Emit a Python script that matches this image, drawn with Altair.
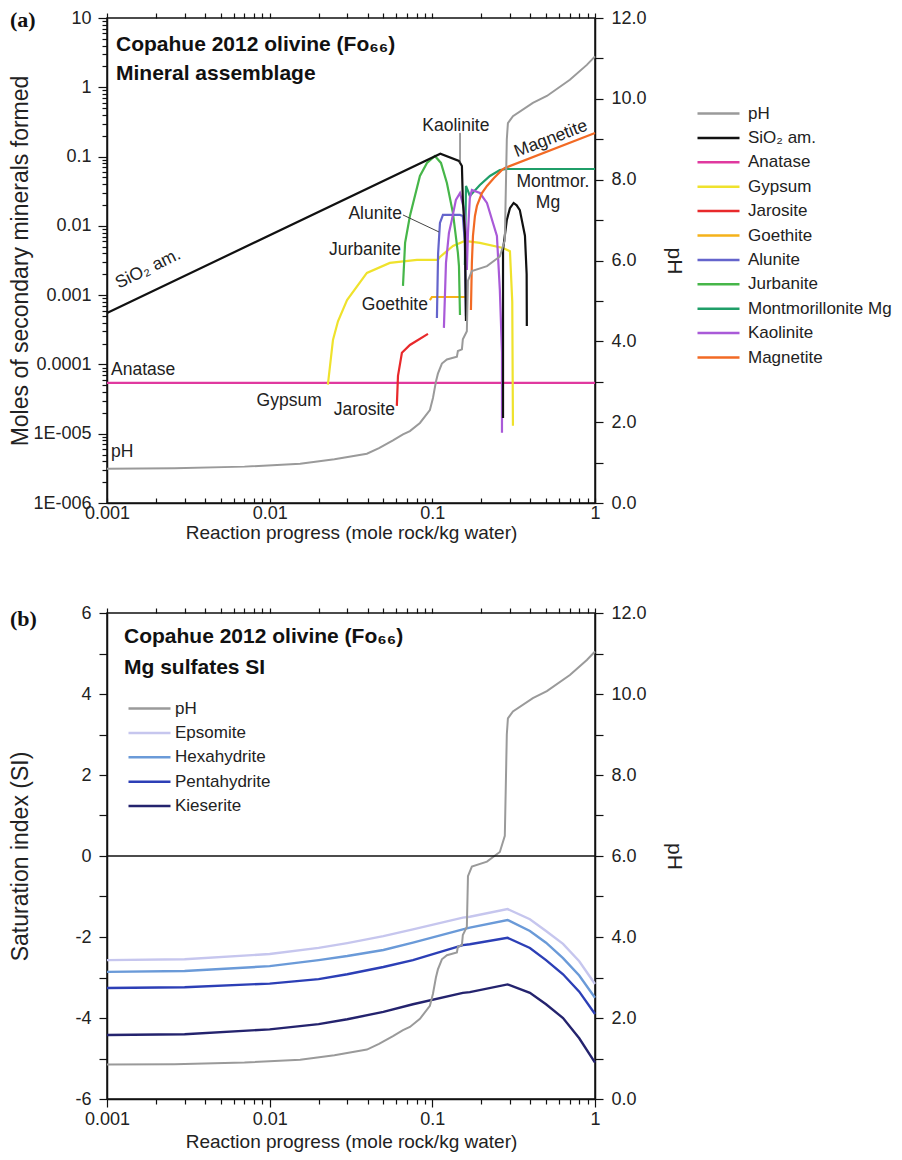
import altair as alt
import pandas as pd

FONT = "Liberation Sans"

# ---------------- shared ticks ----------------
X_TICKS = [round(k * 10.0 ** e, 12) for e in (-3, -2, -1) for k in range(1, 10)] + [1.0]
Y_TICKS_A = [round(k * 10.0 ** e, 14) for e in (-6, -5, -4, -3, -2, -1, 0) for k in range(1, 10)] + [10.0]
PH_TICKS = list(range(0, 13))
SI_TICKS = list(range(-6, 7))

# ---------------- pH curve (both panels) ----------------
PH_X = [0.001, 0.0026, 0.007, 0.0154, 0.025, 0.0396, 0.047, 0.0573, 0.066, 0.0728, 0.0839, 0.0966, 0.1009,
        0.1052, 0.1082, 0.1145, 0.1229, 0.1416, 0.1436, 0.152, 0.154, 0.163, 0.1656,
        0.175, 0.2167, 0.26, 0.279, 0.287, 0.2915, 0.313, 0.415, 0.506, 0.701, 0.891, 1.0]
PH_VALUES = [0.85, 0.86, 0.9, 0.97, 1.08, 1.22, 1.36, 1.55, 1.7, 1.78, 1.98, 2.3, 2.6,
             3.0, 3.2, 3.45, 3.55, 3.62, 3.76, 3.8, 4.05, 4.25, 5.5,
             5.74, 5.86, 6.1, 6.5, 9.0, 9.4, 9.57, 9.9, 10.07, 10.47, 10.84, 11.05]

# ---------------- panel (a): minerals ----------------
LEGEND_A = ["pH", "SiO₂ am.", "Anatase", "Gypsum", "Jarosite", "Goethite", "Alunite",
            "Jurbanite", "Montmorillonite Mg", "Kaolinite", "Magnetite"]
COLORS_A = ["#9a9a9a", "#111111", "#e0399f", "#efe22c", "#e8292b", "#f5b21a", "#6464cc",
            "#46b649", "#1f9e68", "#a95ad8", "#f26a24"]

SIO2_X1 = [0.001, 0.112, 0.1458, 0.152, 0.154, 0.1585, 0.161]
SIO2_Y1 = [0.000553, 0.11, 0.0864, 0.073, 0.0237, 0.0079, 0.000424]
SIO2_X2 = [0.272, 0.272, 0.287, 0.30, 0.316, 0.33, 0.345, 0.371, 0.38, 0.381]
SIO2_Y2 = [1.69e-5, 0.0045, 0.0122, 0.018, 0.0214, 0.0198, 0.0169, 0.0072, 0.002, 0.00036]
ANATASE_X = [0.001, 1.0]
ANATASE_Y = [5.4e-5, 5.4e-5]
GYPSUM_X = [0.0228, 0.0245, 0.0263, 0.0299, 0.0396, 0.0548, 0.0804, 0.108, 0.1114, 0.1339,
            0.1585, 0.196, 0.272, 0.30, 0.31, 0.313]
GYPSUM_Y = [5.1e-5, 2.26e-4, 4.2e-4, 8.5e-4, 0.00209, 0.00292, 0.00322, 0.00322, 0.00356, 0.00513,
            0.00606, 0.00567, 0.0048, 0.0043, 0.0008, 1.3e-5]
JAROSITE_X = [0.0605, 0.0615, 0.065, 0.0728, 0.094]
JAROSITE_Y = [2.52e-5, 6.83e-5, 1.47e-4, 1.91e-4, 2.76e-4]
GOETHITE_X = [0.0966, 0.0994, 0.163]
GOETHITE_Y = [8.5e-4, 9.4e-4, 9.4e-4]
ALUNITE_X = [0.1067, 0.1085, 0.1114, 0.1162, 0.1479, 0.154, 0.1585, 0.161]
ALUNITE_Y = [4.69e-4, 0.004, 0.011, 0.01436, 0.01436, 0.0139, 0.0057, 0.0005]
JURBANITE_X = [0.066, 0.068, 0.0728, 0.0839, 0.0927, 0.1037, 0.113, 0.1229, 0.1339, 0.1436, 0.1458, 0.1479]
JURBANITE_Y = [0.00136, 0.00567, 0.0139, 0.0525, 0.081, 0.102, 0.081, 0.0416, 0.0153, 0.00406, 0.00264, 0.000518]
MONTMOR_X = [0.1585, 0.161, 0.1656, 0.170, 0.196, 0.226, 0.260, 0.287, 1.0]
MONTMOR_Y = [0.00273, 0.0377, 0.0319, 0.027, 0.0389, 0.0525, 0.0641, 0.0662, 0.0662]
KAOLINITE_X = [0.1178, 0.1213, 0.1265, 0.1318, 0.1396, 0.1479, 0.156, 0.161, 0.163, 0.1656,
               0.170, 0.175, 0.196, 0.2167, 0.236, 0.2495, 0.26, 0.268, 0.268]
KAOLINITE_Y = [3.37e-4, 0.00292, 0.0079, 0.0122, 0.0237, 0.0298, 0.0181, 0.0079, 0.00231, 0.0079,
               0.025, 0.033, 0.0298, 0.0214, 0.011, 0.00715, 0.00119, 1.47e-4, 1.03e-5]
MAGNETITE_X = [0.1727, 0.175, 0.1777, 0.1828, 0.188, 0.2018, 0.2167, 0.2393, 0.268, 0.279, 1.0]
MAGNETITE_Y = [6.11e-4, 0.00292, 0.00715, 0.0139, 0.0194, 0.0298, 0.0377, 0.049, 0.0641, 0.0685, 0.219]

# annotations (a)
ANN_RIGHT_LABELS = ["Alunite", "Jurbanite", "Goethite", "Gypsum", "Jarosite"]
ANN_RIGHT_X = [0.065, 0.0641, 0.094, 0.0209, 0.0589]
ANN_RIGHT_Y = [0.0149, 0.00449, 0.00072, 2.97e-5, 2.2e-5]
ANN_CENTER_LABELS = ["Kaolinite", "Montmor.", "Mg"]
ANN_CENTER_X = [0.1396, 0.551, 0.514]
ANN_CENTER_Y = [0.277, 0.043, 0.0214]
ANN_LEFT_LABELS = ["Anatase", "pH"]
ANN_LEFT_X = [0.00106, 0.00106]
ANN_LEFT_Y = [8.3e-5, 5.5e-6]
LEADER_X = [0.148, 0.066]
LEADER_Y = [0.219, 0.01436]
LEADER_X2 = [0.148, 0.1098]
LEADER_Y2 = [0.081, 0.00817]
SIO2_LABEL = ["SiO₂ am."]
SIO2_LABEL_X = [0.00179]
SIO2_LABEL_Y = [0.00239]
MAGNETITE_LABEL = ["Magnetite"]
MAGNETITE_LABEL_X = [0.536]
MAGNETITE_LABEL_Y = [0.18]
TITLE_A = ["Copahue 2012 olivine (Fo₆₆)", "Mineral assemblage"]

# ---------------- panel (b): Mg sulfates SI ----------------
LEGEND_B = ["pH", "Epsomite", "Hexahydrite", "Pentahydrite", "Kieserite"]
COLORS_B = ["#9a9a9a", "#c6c6ee", "#6a9ad8", "#2c3fb6", "#24236e"]
SI_X = [0.001, 0.003, 0.01, 0.02, 0.03, 0.05, 0.076, 0.154, 0.17, 0.29, 0.398, 0.5, 0.636, 0.8, 1.0]
EPSOMITE = [-2.57, -2.55, -2.42, -2.27, -2.15, -1.98, -1.81, -1.52, -1.50, -1.31, -1.56, -1.85, -2.17, -2.6, -3.16]
HEXAHYDRITE = [-2.86, -2.84, -2.72, -2.57, -2.47, -2.32, -2.14, -1.81, -1.77, -1.58, -1.85, -2.14, -2.52, -2.95, -3.5]
PENTAHYDRITE = [-3.26, -3.24, -3.15, -3.04, -2.92, -2.74, -2.57, -2.2, -2.18, -2.02, -2.27, -2.57, -2.92, -3.35, -3.9]
KIESERITE = [-4.42, -4.40, -4.28, -4.15, -4.03, -3.85, -3.66, -3.38, -3.36, -3.17, -3.38, -3.66, -4.0, -4.5, -5.1]
TITLE_B = ["Copahue 2012 olivine (Fo₆₆)", "Mg sulfates SI"]


def long_table(series):
    rows = []
    for name, seg, xs, ys in series:
        for i, (xv, yv) in enumerate(zip(xs, ys)):
            rows.append({"series": name, "seg": f"{name}-{seg}", "x": xv, "y": yv, "i": i})
    return pd.DataFrame(rows)


df_a = long_table([
    ("Anatase", 1, ANATASE_X, ANATASE_Y),
    ("Gypsum", 1, GYPSUM_X, GYPSUM_Y),
    ("Jarosite", 1, JAROSITE_X, JAROSITE_Y),
    ("Goethite", 1, GOETHITE_X, GOETHITE_Y),
    ("Jurbanite", 1, JURBANITE_X, JURBANITE_Y),
    ("Alunite", 1, ALUNITE_X, ALUNITE_Y),
    ("Montmorillonite Mg", 1, MONTMOR_X, MONTMOR_Y),
    ("Kaolinite", 1, KAOLINITE_X, KAOLINITE_Y),
    ("Magnetite", 1, MAGNETITE_X, MAGNETITE_Y),
    ("SiO₂ am.", 1, SIO2_X1, SIO2_Y1),
    ("SiO₂ am.", 2, SIO2_X2, SIO2_Y2),
])
df_ph = long_table([("pH", 1, PH_X, PH_VALUES)])
df_b = long_table([
    ("Epsomite", 1, SI_X, EPSOMITE),
    ("Hexahydrite", 1, SI_X, HEXAHYDRITE),
    ("Pentahydrite", 1, SI_X, PENTAHYDRITE),
    ("Kieserite", 1, SI_X, KIESERITE),
])

# ---------------- scales & axes ----------------
XSCALE = alt.Scale(type="log", domain=[0.001, 1], nice=False)
YSCALE_A = alt.Scale(type="log", domain=[1e-6, 10], nice=False)
PHSCALE = alt.Scale(domain=[0, 12], nice=False, zero=False)
SISCALE = alt.Scale(domain=[-6, 6], nice=False, zero=False)

DEC = "abs(log(datum.value)/LN10 - round(log(datum.value)/LN10)) < 0.001"
X_TITLE = "Reaction progress (mole rock/kg water)"
X_LABELS = f"{DEC} ? toString(datum.value) : ''"

# panel (a): bottom ticks point inward, labels sit close to the frame
AX_BOTTOM_A = alt.Axis(values=X_TICKS, title=X_TITLE, labelExpr=X_LABELS,
                       tickSize={"expr": "-5"}, labelOverlap=False, labelFlush=False,
                       labelPadding=6, titleY=20)
# panel (b): bottom ticks point outward
AX_BOTTOM_B = alt.Axis(values=X_TICKS, title=X_TITLE, labelExpr=X_LABELS,
                       tickSize={"condition": {"test": DEC, "value": 8}, "value": 5},
                       labelOverlap=False, labelFlush=False, labelPadding=3, titlePadding=4)
AX_TOP = alt.Axis(orient="top", values=X_TICKS, labels=False, title=None, tickSize=5, domain=False,
                  minExtent=0, maxExtent=5)
AX_LEFT_A = alt.Axis(values=Y_TICKS_A, title="Moles of secondary minerals formed",
                     labelExpr=f"{DEC} ? (datum.value >= 0.0001 ? toString(datum.value) : '1E-00' + toString(round(-log(datum.value)/LN10))) : ''",
                     tickSize={"condition": {"test": DEC, "value": 9}, "value": 5},
                     labelOverlap=False, labelFlush=False, labelPadding=7, titleX=-75,
                     titleFontSize=23)
AX_RIGHT_PH = alt.Axis(orient="right", values=PH_TICKS, title="pH", tickSize=8,
                       labelExpr="datum.value % 2 == 0 ? format(datum.value, '.1f') : ''",
                       labelOverlap=False, labelFlush=False, labelPadding=8, titleX=68,
                       titleFontSize=21)
AX_LEFT_B = alt.Axis(values=SI_TICKS, title="Saturation index (SI)", tickSize=8,
                     labelExpr="datum.value % 2 == 0 ? toString(datum.value) : ''",
                     labelOverlap=False, labelFlush=False, labelPadding=8, titleX=-75,
                     titleFontSize=23)


def legend(x, y, label_offset):
    return alt.Legend(title=None, orient="none", legendX=x, legendY=y, symbolType="M-1,0H5",
                      symbolSize=196, symbolStrokeWidth=2.5, labelOffset=label_offset,
                      labelFontSize=17, labelFont=FONT, labelColor="#222", rowPadding=6.4,
                      padding=0, labelLimit=400)


COLOR_A = alt.Color("series:N", scale=alt.Scale(domain=LEGEND_A, range=COLORS_A),
                    legend=legend(589, 87, 35))
COLOR_B = alt.Color("series:N", scale=alt.Scale(domain=LEGEND_B, range=COLORS_B),
                    legend=legend(20, 87, 31))


def text_layer(labels, xs, ys, yscale, align, angle=0):
    df = pd.DataFrame({"label": labels, "x": xs, "y": ys})
    return alt.Chart(df).mark_text(font=FONT, fontSize=17.5, align=align, baseline="middle",
                                   color="#222", angle=angle).encode(
        x=alt.X("x:Q", scale=XSCALE, axis=None),
        y=alt.Y("y:Q", scale=yscale, axis=None),
        text="label:N")


def fixed_text(txt, x, y, size, font=FONT, weight="bold"):
    return alt.Chart(pd.DataFrame({"t": [txt]})).mark_text(
        font=font, fontSize=size, fontWeight=weight, align="left", baseline="alphabetic",
        color="#111").encode(x=alt.value(x), y=alt.value(y), text="t:N")


# ---------------- panel (a) ----------------
lines_a = alt.Chart(df_a).mark_line(strokeWidth=2.2).encode(
    x=alt.X("x:Q", scale=XSCALE, axis=AX_BOTTOM_A),
    y=alt.Y("y:Q", scale=YSCALE_A, axis=AX_LEFT_A),
    color=COLOR_A, detail="seg:N", order="i:Q")

df_lead = pd.DataFrame({"x": LEADER_X, "y": LEADER_Y, "x2": LEADER_X2, "y2": LEADER_Y2})
leaders_a = alt.Chart(df_lead).mark_rule(color="#444", strokeWidth=1).encode(
    x=alt.X("x:Q", scale=XSCALE, axis=None), y=alt.Y("y:Q", scale=YSCALE_A, axis=None),
    x2="x2:Q", y2="y2:Q")

ph_a = alt.Chart(df_ph).mark_line(strokeWidth=2).encode(
    x=alt.X("x:Q", scale=XSCALE, axis=AX_TOP),
    y=alt.Y("y:Q", scale=PHSCALE, axis=AX_RIGHT_PH),
    color=COLOR_A, order="i:Q")

panel_a = alt.layer(
    lines_a, ph_a, leaders_a,
    text_layer(ANN_RIGHT_LABELS, ANN_RIGHT_X, ANN_RIGHT_Y, YSCALE_A, "right"),
    text_layer(ANN_CENTER_LABELS, ANN_CENTER_X, ANN_CENTER_Y, YSCALE_A, "center"),
    text_layer(ANN_LEFT_LABELS, ANN_LEFT_X, ANN_LEFT_Y, YSCALE_A, "left"),
    text_layer(SIO2_LABEL, SIO2_LABEL_X, SIO2_LABEL_Y, YSCALE_A, "center", angle=334),
    text_layer(MAGNETITE_LABEL, MAGNETITE_LABEL_X, MAGNETITE_LABEL_Y, YSCALE_A, "center", angle=339),
    fixed_text(TITLE_A[0], 9, 33, 21),
    fixed_text(TITLE_A[1], 9, 62, 21),
    fixed_text("(a)", -97, 9, 22, font="Liberation Serif"),
).resolve_scale(y="independent").resolve_axis(x="independent", y="independent").properties(
    width=488, height=485)

# ---------------- panel (b) ----------------
lines_b = alt.Chart(df_b).mark_line(strokeWidth=2.4).encode(
    x=alt.X("x:Q", scale=XSCALE, axis=AX_BOTTOM_B),
    y=alt.Y("y:Q", scale=SISCALE, axis=AX_LEFT_B),
    color=COLOR_B, detail="seg:N", order="i:Q")

zero_b = alt.Chart(pd.DataFrame({"y": [0]})).mark_rule(color="#111", strokeWidth=1.5).encode(
    y=alt.Y("y:Q", scale=SISCALE, axis=None))

ph_b = alt.Chart(df_ph).mark_line(strokeWidth=2).encode(
    x=alt.X("x:Q", scale=XSCALE, axis=AX_TOP),
    y=alt.Y("y:Q", scale=PHSCALE, axis=AX_RIGHT_PH),
    color=COLOR_B, order="i:Q")

panel_b = alt.layer(
    lines_b, ph_b, zero_b,
    fixed_text(TITLE_B[0], 17, 30, 21),
    fixed_text(TITLE_B[1], 17, 61, 21),
    fixed_text("(b)", -97, 13, 22, font="Liberation Serif"),
).resolve_scale(y="independent").resolve_axis(x="independent", y="independent").properties(
    width=488, height=486)

chart = alt.vconcat(panel_a, panel_b, spacing=60).resolve_scale(color="independent").properties(
    padding={"left": 0, "top": 0, "right": 0, "bottom": 0}
).configure_view(stroke="#111", strokeWidth=1.5).configure_axis(
    domainColor="#111", tickColor="#111", domainWidth=1.5, tickWidth=1.2,
    labelFont=FONT, titleFont=FONT, labelFontSize=18, titleFontSize=19,
    titleFontWeight="normal", labelColor="#222", titleColor="#222", grid=False)

chart.save("out.html", embed_options={"renderer": "svg", "actions": False})
